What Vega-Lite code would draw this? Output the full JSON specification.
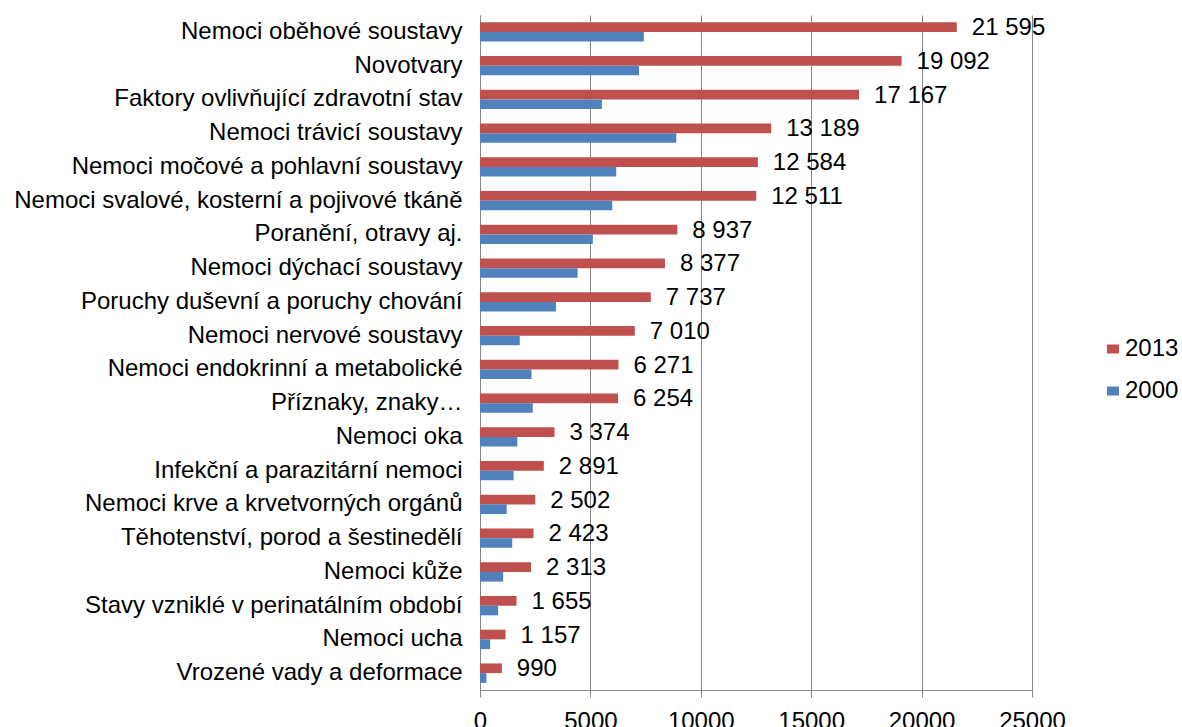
{
  "$schema": "https://vega.github.io/schema/vega-lite/v6.json",
  "autosize": "none",
  "padding": {"left": 480, "top": 15, "right": 150, "bottom": 37},
  "width": 552,
  "height": 675,
  "background": "white",
  "config": {
    "view": {"stroke": null},
    "font": "Liberation Sans",
    "locale": {"number": {"decimal": ",", "thousands": " ", "grouping": [3], "currency": ["", " Kč"]}}
  },
  "data": {"values": [
    {"cat": "Nemoci oběhové soustavy", "year": "2013", "value": 21595},
    {"cat": "Nemoci oběhové soustavy", "year": "2000", "value": 7420},
    {"cat": "Novotvary", "year": "2013", "value": 19092},
    {"cat": "Novotvary", "year": "2000", "value": 7200},
    {"cat": "Faktory ovlivňující zdravotní stav", "year": "2013", "value": 17167},
    {"cat": "Faktory ovlivňující zdravotní stav", "year": "2000", "value": 5520},
    {"cat": "Nemoci trávicí soustavy", "year": "2013", "value": 13189},
    {"cat": "Nemoci trávicí soustavy", "year": "2000", "value": 8890},
    {"cat": "Nemoci močové a pohlavní soustavy", "year": "2013", "value": 12584},
    {"cat": "Nemoci močové a pohlavní soustavy", "year": "2000", "value": 6170},
    {"cat": "Nemoci svalové, kosterní a pojivové tkáně", "year": "2013", "value": 12511},
    {"cat": "Nemoci svalové, kosterní a pojivové tkáně", "year": "2000", "value": 5990},
    {"cat": "Poranění, otravy aj.", "year": "2013", "value": 8937},
    {"cat": "Poranění, otravy aj.", "year": "2000", "value": 5110},
    {"cat": "Nemoci dýchací soustavy", "year": "2013", "value": 8377},
    {"cat": "Nemoci dýchací soustavy", "year": "2000", "value": 4420},
    {"cat": "Poruchy duševní a poruchy chování", "year": "2013", "value": 7737},
    {"cat": "Poruchy duševní a poruchy chování", "year": "2000", "value": 3440},
    {"cat": "Nemoci nervové soustavy", "year": "2013", "value": 7010},
    {"cat": "Nemoci nervové soustavy", "year": "2000", "value": 1800},
    {"cat": "Nemoci endokrinní a metabolické", "year": "2013", "value": 6271},
    {"cat": "Nemoci endokrinní a metabolické", "year": "2000", "value": 2330},
    {"cat": "Příznaky, znaky…", "year": "2013", "value": 6254},
    {"cat": "Příznaky, znaky…", "year": "2000", "value": 2390},
    {"cat": "Nemoci oka", "year": "2013", "value": 3374},
    {"cat": "Nemoci oka", "year": "2000", "value": 1690},
    {"cat": "Infekční a parazitární nemoci", "year": "2013", "value": 2891},
    {"cat": "Infekční a parazitární nemoci", "year": "2000", "value": 1520},
    {"cat": "Nemoci krve a krvetvorných orgánů", "year": "2013", "value": 2502},
    {"cat": "Nemoci krve a krvetvorných orgánů", "year": "2000", "value": 1210},
    {"cat": "Těhotenství, porod a šestinedělí", "year": "2013", "value": 2423},
    {"cat": "Těhotenství, porod a šestinedělí", "year": "2000", "value": 1460},
    {"cat": "Nemoci kůže", "year": "2013", "value": 2313},
    {"cat": "Nemoci kůže", "year": "2000", "value": 1050},
    {"cat": "Stavy vzniklé v perinatálním období", "year": "2013", "value": 1655},
    {"cat": "Stavy vzniklé v perinatálním období", "year": "2000", "value": 820},
    {"cat": "Nemoci ucha", "year": "2013", "value": 1157},
    {"cat": "Nemoci ucha", "year": "2000", "value": 460},
    {"cat": "Vrozené vady a deformace", "year": "2013", "value": 990},
    {"cat": "Vrozené vady a deformace", "year": "2000", "value": 290}
  ]},
  "encoding": {
    "y": {
      "field": "cat", "type": "nominal", "sort": null,
      "scale": {"paddingInner": 0.425, "paddingOuter": 0.2125},
      "axis": {
        "title": null, "ticks": false, "domainColor": "#868686", "domainWidth": 1,
        "labelFont": "Liberation Sans", "labelFontSize": 24, "labelColor": "#000000",
        "labelPadding": 18, "labelLimit": 600
      }
    },
    "yOffset": {"field": "year", "type": "nominal", "sort": ["2013", "2000"]},
    "x": {
      "field": "value", "type": "quantitative",
      "scale": {"domain": [0, 25000], "nice": false},
      "axis": {
        "title": null, "values": [0, 5000, 10000, 15000, 20000, 25000], "format": "d",
        "grid": true, "gridColor": "#868686", "gridWidth": 1,
        "domainColor": "#868686", "tickColor": "#868686", "tickSize": 7,
        "labelFont": "Liberation Sans", "labelFontSize": 24, "labelColor": "#000000",
        "labelPadding": 12, "labelFlush": false, "labelOverlap": false, "labelBound": false
      }
    }
  },
  "layer": [
    {
      "mark": {"type": "bar"},
      "encoding": {
        "color": {
          "field": "year", "type": "nominal",
          "scale": {"domain": ["2013", "2000"], "range": ["#C0504D", "#4F81BD"]},
          "legend": {
            "title": null, "orient": "none", "legendX": 621, "legendY": 322, "padding": 0,
            "symbolType": "M-1,-0.75H1V0.75H-1Z", "symbolSize": 144, "symbolStrokeWidth": 0,
            "labelFont": "Liberation Sans", "labelFontSize": 24, "labelColor": "#000000",
            "labelOffset": 0, "rowPadding": 18
          }
        }
      }
    },
    {
      "transform": [{"filter": "datum.year === '2013'"}],
      "mark": {"type": "text", "align": "left", "baseline": "middle", "dx": 15, "dy": 1, "font": "Liberation Sans", "fontSize": 24, "color": "#000000"},
      "encoding": {
        "text": {"field": "value", "type": "quantitative", "format": ","}
      }
    }
  ]
}
